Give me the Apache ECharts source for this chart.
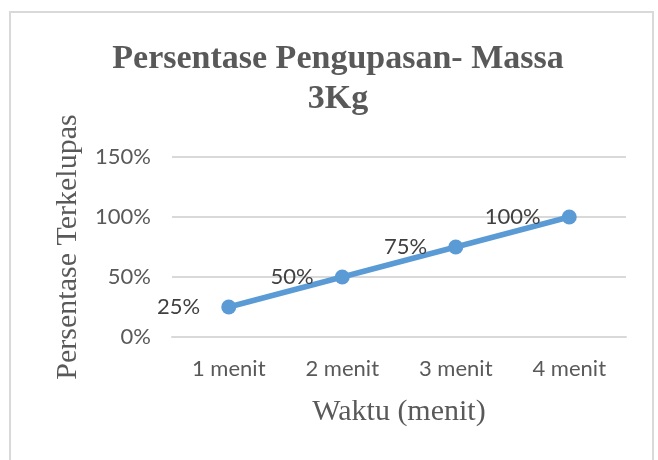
<!DOCTYPE html>
<html><head><meta charset="utf-8">
<script src="https://cdn.jsdelivr.net/npm/echarts@6/dist/echarts.min.js"></script>
<style>html,body{margin:0;padding:0;background:#fff}#c{width:658px;height:460px}</style>
</head><body><div id="c"></div>
<script>
const categories = ['1 menit', '2 menit', '3 menit', '4 menit'];
const values = [0.25, 0.50, 0.75, 1.00];
const yTicks = [0, 0.5, 1.0, 1.5];

const chart = echarts.init(document.getElementById('c'), null, {renderer: 'canvas'});
chart.setOption({
  backgroundColor: '#fff',
  animation: false,
  graphic: [{
    type: 'rect', shape: {x: 10, y: 12, width: 643, height: 460},
    style: {fill: 'none', stroke: '#d9d9d9', lineWidth: 2}, silent: true
  }],
  title: {
    text: 'Persentase Pengupasan- Massa\n3Kg',
    left: 333, top: 34, textAlign: 'center',
    textStyle: {fontFamily: 'Liberation Serif', fontWeight: 'bold', fontSize: 34, color: '#595959', lineHeight: 40}
  },
  grid: {left: 172, right: 32, top: 157, bottom: 123},
  xAxis: {
    type: 'category', data: categories, boundaryGap: true,
    axisLine: {show: true, lineStyle: {color: '#d9d9d9', width: 2}},
    axisTick: {show: false},
    axisLabel: {fontFamily: 'Lato', fontSize: 22, color: '#595959', margin: 21},
    name: 'Waktu (menit)', nameLocation: 'middle', nameGap: 60,
    nameTextStyle: {fontFamily: 'Liberation Serif', fontSize: 30, color: '#595959'}
  },
  yAxis: {
    type: 'value', min: yTicks[0], max: yTicks[yTicks.length - 1], interval: 0.5,
    axisLine: {show: false}, axisTick: {show: false},
    splitLine: {lineStyle: {color: '#d9d9d9', width: 2}},
    axisLabel: {fontFamily: 'Lato', fontSize: 22, color: '#595959', margin: 21,
      formatter: v => Math.round(v * 100) + '%'},
    name: 'Persentase Terkelupas', nameLocation: 'middle', nameGap: 89, nameRotate: 90,
    nameTextStyle: {fontFamily: 'Liberation Serif', fontSize: 30, color: '#595959'}
  },
  series: [{
    type: 'line', data: values,
    lineStyle: {color: '#5b9bd5', width: 5.5},
    itemStyle: {color: '#5b9bd5'},
    symbol: 'circle', symbolSize: 15,
    label: {show: true, position: 'left', distance: 21, fontFamily: 'Lato', fontSize: 22, color: '#404040',
      formatter: p => Math.round(p.value * 100) + '%'}
  }]
});
</script></body></html>
